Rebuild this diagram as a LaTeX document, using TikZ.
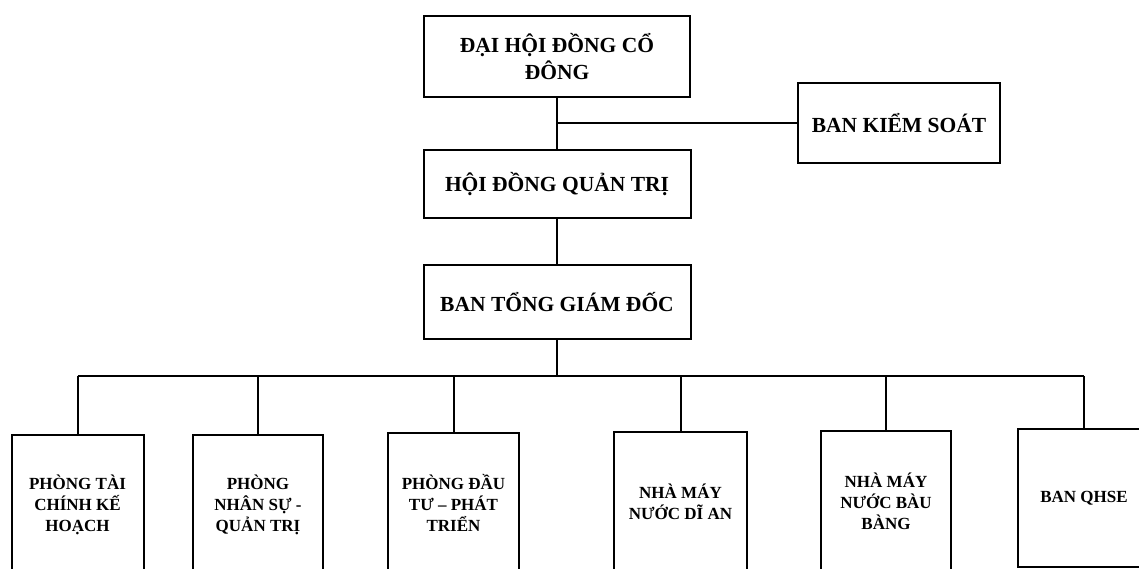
\documentclass[tikz,border=0pt]{standalone}
\usepackage{fontspec}
\setmainfont{Liberation Serif}
\begin{document}
\begin{tikzpicture}[x=1pt,y=-1pt,
  box/.style={draw=black,line width=2pt,fill=white,align=center,inner sep=2pt,
    font=\bfseries\fontsize{21.5}{27}\selectfont},
  sub/.style={draw=black,line width=2pt,fill=white,align=center,inner sep=2pt,
    minimum width=131pt,minimum height=140pt,font=\bfseries\fontsize{17}{21}\selectfont},
  link/.style={draw=black,line width=2pt}]
\useasboundingbox (0,0) rectangle (1139,569);
\clip (0,0) rectangle (1139,569);
\fill[white] (0,0) rectangle (1139,569);
\node[box,minimum width=266pt,minimum height=81pt] (dhd) at (557,56.5) {ĐẠI HỘI ĐỒNG CỔ\\ĐÔNG};
\node[box,minimum width=202pt,minimum height=80pt] (bks) at (899,123) {BAN KIỂM SOÁT};
\node[box,minimum width=267pt,minimum height=68pt] (hdqt) at (557,184) {HỘI ĐỒNG QUẢN TRỊ};
\node[box,minimum width=267pt,minimum height=74pt] (btgd) at (557,302) {BAN TỔNG GIÁM ĐỐC};
\node[sub,minimum width=132pt] (p1) at (77.5,505) {PHÒNG TÀI\\CHÍNH KẾ\\HOẠCH};
\node[sub,minimum width=130pt] (p2) at (258,505) {PHÒNG\\NHÂN SỰ -\\QUẢN TRỊ};
\node[sub] (p3) at (453.5,503) {PHÒNG ĐẦU\\TƯ – PHÁT\\TRIỂN};
\node[sub,minimum width=133pt] (p4) at (680.5,502) {NHÀ MÁY\\NƯỚC DĨ AN};
\node[sub,minimum width=130pt] (p5) at (886,501) {NHÀ MÁY\\NƯỚC BÀU\\BÀNG};
\node[sub,minimum width=132pt,minimum height=138pt] (p6) at (1084,498) {BAN QHSE};
\coordinate (bus) at (557,376);
\path[link] (dhd.south) -- (hdqt.north);
\path[link] (dhd.south |- bks.west) -- (bks.west);
\path[link] (hdqt.south) -- (btgd.north);
\path[link] (btgd.south) -- (bus);
\path[link] (p1.north |- bus) -- (p6.north |- bus);
\foreach \n in {p1,p2,p3,p4,p5,p6} {\path[link] (\n.north) -- (\n.north |- bus);}
\end{tikzpicture}
\end{document}
